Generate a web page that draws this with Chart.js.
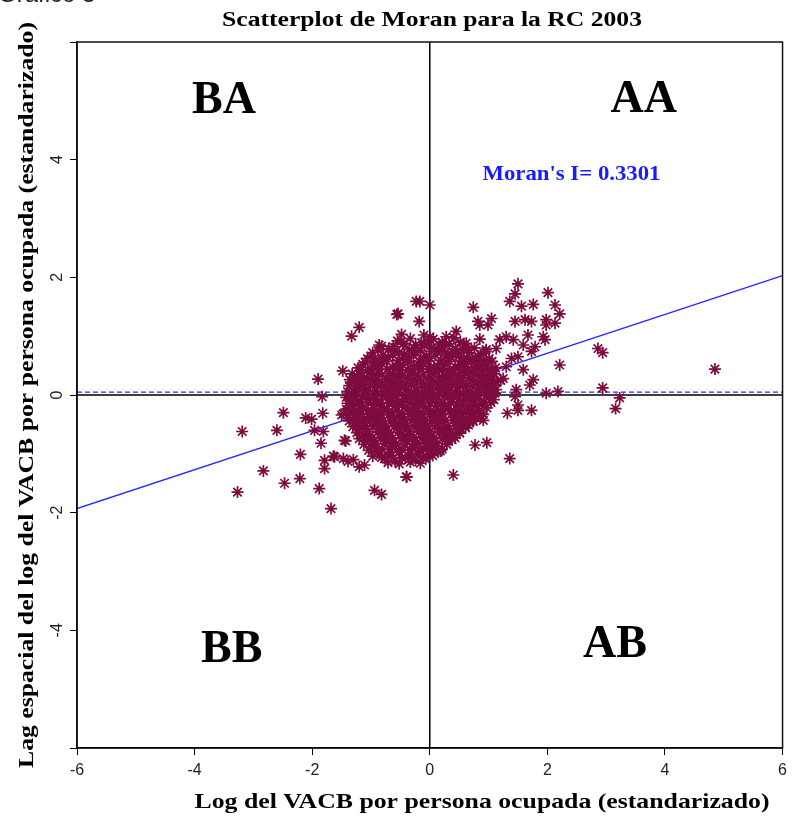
<!DOCTYPE html>
<html>
<head>
<meta charset="utf-8">
<script src="https://cdn.jsdelivr.net/npm/chart.js@4.4.0/dist/chart.umd.min.js"></script>
<style>
  html, body { margin: 0; padding: 0; background: #fff; }
  #wrap { width: 793px; height: 816px; position: relative; overflow: hidden; }
</style>
</head>
<body>
<div id="wrap"><canvas id="moran" width="793" height="816"></canvas></div>
<script>
// axis setup
const axisMin = -6;
const axisMax = 6;
const tickStep = 2;

// Moran's I, mean of the spatial lag and the fitted line ends
const moranI = 0.3301;
const meanLag = 0.05;
const regLine = [[-6, -1.93], [6, 2.03]];

// quadrant labels: [text, x, y] in data units
const quadLabels = [['BA', -3.50, 4.99], ['AA', 3.64, 5.02], ['BB', -3.37, -4.34], ['AB', 3.15, -4.25]];

// points outside the dense centre
const outerPoints = [
  [-3.19, -0.62], [-3.27, -1.65], [-2.83, -1.29], [-2.47, -1.50], [-2.21, -1.42], [-1.88, -1.59],
  [-1.68, -1.93], [-2.49, -0.30], [-2.60, -0.60], [-2.20, -1.01], [-2.11, -0.39], [-2.01, -0.41],
  [-1.82, -0.31], [-1.90, 0.27], [-1.83, -0.03], [-1.96, -0.60], [-1.81, -0.62], [-1.85, -0.82],
  [-1.48, 0.41], [-1.33, 1.00], [-1.20, 1.15], [-1.47, -0.32], [-1.43, -0.78], [-1.79, -1.11],
  [-1.79, -1.25], [-1.62, -1.05], [-1.47, -1.08], [-1.39, -1.13], [-1.11, -1.19], [-0.94, -1.62],
  [-0.82, -1.69], [-0.39, -1.39], [-0.56, 1.37], [-0.48, 1.03], [-0.23, 1.59], [-0.86, 0.85],
  [-0.62, 0.82], [-0.94, 0.57], [-1.22, 0.26], [-1.64, -1.04], [-1.45, -0.77], [-1.50, -0.34],
  [-1.30, -1.10], [-1.20, -1.22], [-0.18, 1.25], [-0.10, 1.02], [0.00, 0.99], [-0.54, 1.38],
  [1.50, 1.89], [2.01, 1.74], [1.36, 1.59], [1.45, 1.72], [1.76, 1.54], [1.56, 1.51],
  [2.13, 1.53], [2.21, 1.38], [1.98, 1.28], [1.98, 1.19], [1.45, 1.25], [1.62, 1.28],
  [1.73, 1.25], [1.93, 0.99], [1.96, 0.94], [1.67, 1.02], [1.79, 0.82], [1.73, 0.74],
  [2.21, 0.51], [1.59, 0.85], [1.42, 0.94], [1.19, 0.94], [1.30, 0.99], [1.05, 1.30],
  [0.99, 1.19], [0.82, 1.25], [0.85, 1.19], [0.74, 1.49], [-0.17, 1.59], [0.00, 1.53],
  [0.85, 0.95], [1.13, 0.79], [0.96, 0.77], [1.39, 0.62], [1.50, 0.65], [1.30, 0.48],
  [1.59, 0.43], [1.76, 0.26], [1.70, 0.17], [1.47, 0.09], [1.45, -0.03], [1.98, 0.03],
  [2.18, 0.06], [1.50, -0.17], [1.50, -0.26], [1.32, -0.31], [1.73, -0.26], [1.36, -1.08],
  [0.97, -0.81], [0.77, -0.85], [0.40, -1.36], [-0.40, -1.39], [0.91, -0.43], [0.74, -0.45],
  [0.57, -0.48], [0.68, -0.28], [0.51, -0.65], [0.31, -0.77], [0.00, -0.94], [-0.17, -0.94],
  [0.99, 0.11], [1.13, 0.09], [1.08, 0.37], [1.25, 0.28], [0.79, 0.60], [0.65, 0.77],
  [0.45, 1.08], [0.28, 0.99], [2.13, 1.22], [2.86, 0.79], [2.94, 0.72], [4.85, 0.44],
  [2.94, 0.12], [3.23, -0.05], [3.16, -0.23]
];

// dense centre of the cloud (estimated, row by row)
const corePoints = [
  [-0.55, 0.92], [-0.33, 0.96], [-0.14, 0.89], [0.06, 0.95], [0.21, 0.90], [0.41, 0.97], [0.62, 0.88],
  [-0.82, 0.83], [-0.64, 0.78], [-0.46, 0.86], [-0.27, 0.80], [-0.09, 0.84], [0.09, 0.77], [0.26, 0.83], [0.44, 0.79], [0.58, 0.85],
  [-0.97, 0.72], [-0.79, 0.68], [-0.61, 0.74], [-0.43, 0.69], [-0.24, 0.73], [-0.06, 0.67], [0.13, 0.74], [0.31, 0.70], [0.49, 0.66], [0.67, 0.72], [0.86, 0.69],
  [-1.06, 0.62], [-0.87, 0.58], [-0.71, 0.64], [-0.53, 0.59], [-0.36, 0.63], [-0.17, 0.57], [0.01, 0.62], [0.19, 0.59], [0.36, 0.64], [0.54, 0.57], [0.73, 0.61], [0.92, 0.58],
  [-1.14, 0.52], [-0.97, 0.48], [-0.81, 0.53], [-0.63, 0.47], [-0.46, 0.51], [-0.27, 0.49], [-0.11, 0.54], [0.07, 0.47], [0.26, 0.52], [0.43, 0.48], [0.61, 0.53], [0.79, 0.49], [0.97, 0.51],
  [-1.19, 0.41], [-1.03, 0.38], [-0.86, 0.43], [-0.67, 0.37], [-0.51, 0.42], [-0.33, 0.39], [-0.14, 0.44], [0.03, 0.38], [0.21, 0.42], [0.37, 0.37], [0.56, 0.43], [0.71, 0.39], [0.89, 0.41], [1.04, 0.36],
  [-1.24, 0.31], [-1.07, 0.28], [-0.91, 0.33], [-0.73, 0.27], [-0.54, 0.32], [-0.37, 0.29], [-0.21, 0.34], [-0.02, 0.27], [0.16, 0.31], [0.33, 0.28], [0.49, 0.33], [0.67, 0.29], [0.84, 0.32], [1.01, 0.27],
  [-1.29, 0.22], [-1.13, 0.18], [-0.94, 0.23], [-0.77, 0.17], [-0.61, 0.21], [-0.43, 0.19], [-0.24, 0.24], [-0.07, 0.17], [0.11, 0.22], [0.27, 0.18], [0.46, 0.23], [0.63, 0.17], [0.81, 0.21], [0.97, 0.19], [1.14, 0.22],
  [-1.27, 0.11], [-1.09, 0.08], [-0.93, 0.13], [-0.74, 0.07], [-0.57, 0.12], [-0.41, 0.09], [-0.23, 0.14], [-0.04, 0.07], [0.13, 0.12], [0.31, 0.08], [0.47, 0.13], [0.64, 0.07], [0.83, 0.11], [1.01, 0.09],
  [-1.33, 0.02], [-1.16, -0.03], [-0.97, 0.03], [-0.81, -0.02], [-0.63, 0.04], [-0.44, -0.01], [-0.27, 0.03], [-0.11, -0.04], [0.07, 0.01], [0.24, -0.02], [0.43, 0.04], [0.59, -0.03], [0.77, 0.02], [0.96, -0.01], [1.11, 0.03],
  [-1.34, -0.08], [-1.17, -0.12], [-1.01, -0.07], [-0.83, -0.13], [-0.66, -0.09], [-0.47, -0.11], [-0.31, -0.06], [-0.13, -0.12], [0.04, -0.08], [0.23, -0.13], [0.39, -0.07], [0.57, -0.11], [0.76, -0.09], [0.93, -0.12], [1.09, -0.08],
  [-1.31, -0.18], [-1.13, -0.22], [-0.96, -0.17], [-0.77, -0.23], [-0.59, -0.19], [-0.43, -0.21], [-0.26, -0.16], [-0.07, -0.22], [0.11, -0.18], [0.27, -0.23], [0.46, -0.17], [0.63, -0.21], [0.79, -0.19], [0.97, -0.22],
  [-1.36, -0.28], [-1.19, -0.32], [-0.99, -0.27], [-0.83, -0.33], [-0.64, -0.29], [-0.47, -0.31], [-0.29, -0.26], [-0.13, -0.32], [0.06, -0.28], [0.21, -0.33], [0.41, -0.27], [0.57, -0.31], [0.74, -0.29], [0.91, -0.33],
  [-1.29, -0.38], [-1.11, -0.42], [-0.94, -0.37], [-0.79, -0.43], [-0.61, -0.39], [-0.43, -0.41], [-0.24, -0.36], [-0.09, -0.42], [0.09, -0.38], [0.27, -0.43], [0.44, -0.37], [0.61, -0.41], [0.79, -0.39],
  [-1.27, -0.48], [-1.09, -0.52], [-0.91, -0.47], [-0.74, -0.53], [-0.57, -0.49], [-0.39, -0.51], [-0.21, -0.46], [-0.04, -0.52], [0.13, -0.48], [0.31, -0.53], [0.47, -0.47], [0.66, -0.51],
  [-1.21, -0.58], [-1.04, -0.62], [-0.87, -0.57], [-0.69, -0.63], [-0.51, -0.59], [-0.34, -0.61], [-0.17, -0.56], [0.01, -0.62], [0.17, -0.58], [0.36, -0.63], [0.53, -0.57],
  [-1.14, -0.68], [-0.97, -0.72], [-0.79, -0.67], [-0.63, -0.73], [-0.44, -0.69], [-0.27, -0.71], [-0.11, -0.66], [0.07, -0.72], [0.24, -0.68], [0.43, -0.73],
  [-1.09, -0.78], [-0.91, -0.82], [-0.74, -0.77], [-0.57, -0.83], [-0.39, -0.79], [-0.21, -0.81], [-0.04, -0.76], [0.13, -0.82], [0.29, -0.78],
  [-0.99, -0.88], [-0.81, -0.92], [-0.64, -0.87], [-0.47, -0.93], [-0.29, -0.89], [-0.11, -0.91], [0.06, -0.86], [0.21, -0.92],
  [-0.89, -0.98], [-0.71, -1.02], [-0.53, -0.97], [-0.37, -1.03], [-0.19, -0.99], [-0.02, -1.01], [0.14, -0.97],
  [-0.77, -1.08], [-0.59, -1.12], [-0.41, -1.07], [-0.24, -1.11], [-0.07, -1.09]
];

// more points packed between the rows above
const coreFill = [
  [-0.44, 0.88], [-0.24, 0.85], [-0.03, 0.90], [0.16, 0.86], [0.33, 0.87], [0.52, 0.90],
  [-0.88, 0.76], [-0.70, 0.79], [-0.52, 0.73], [-0.35, 0.77], [-0.16, 0.75], [0.03, 0.80], [0.21, 0.76], [0.39, 0.73], [0.57, 0.77], [0.76, 0.80], [0.95, 0.74],
  [-1.00, 0.66], [-0.82, 0.63], [-0.63, 0.68], [-0.45, 0.64], [-0.28, 0.67], [-0.10, 0.63], [0.09, 0.68], [0.27, 0.65], [0.45, 0.69], [0.63, 0.63], [0.82, 0.66], [1.01, 0.62],
  [-1.10, 0.56], [-0.91, 0.53], [-0.73, 0.57], [-0.55, 0.54], [-0.37, 0.56], [-0.19, 0.52], [-0.02, 0.57], [0.17, 0.54], [0.34, 0.57], [0.52, 0.52], [0.70, 0.56], [0.88, 0.54], [1.06, 0.57],
  [-1.22, 0.46], [-1.06, 0.43], [-0.89, 0.47], [-0.72, 0.44], [-0.55, 0.46], [-0.38, 0.43], [-0.20, 0.47], [-0.03, 0.44], [0.14, 0.46], [0.31, 0.42], [0.48, 0.46], [0.64, 0.44], [0.81, 0.47], [0.98, 0.43], [1.12, 0.46],
  [-1.32, 0.36], [-1.15, 0.33], [-0.98, 0.37], [-0.81, 0.34], [-0.63, 0.36], [-0.46, 0.33], [-0.29, 0.37], [-0.11, 0.34], [0.07, 0.36], [0.25, 0.33], [0.41, 0.37], [0.58, 0.34], [0.76, 0.36], [0.93, 0.33], [1.10, 0.36],
  [-1.36, 0.26], [-1.20, 0.24], [-1.02, 0.27], [-0.86, 0.23], [-0.69, 0.26], [-0.52, 0.24], [-0.33, 0.27], [-0.15, 0.23], [0.03, 0.26], [0.20, 0.24], [0.37, 0.27], [0.55, 0.23], [0.72, 0.26], [0.89, 0.24], [1.06, 0.27], [1.21, 0.25],
  [-1.37, 0.16], [-1.19, 0.13], [-1.01, 0.17], [-0.84, 0.14], [-0.66, 0.16], [-0.49, 0.13], [-0.31, 0.17], [-0.14, 0.14], [0.04, 0.16], [0.22, 0.13], [0.39, 0.17], [0.56, 0.14], [0.73, 0.16], [0.91, 0.14], [1.08, 0.16],
  [-1.40, 0.06], [-1.24, 0.04], [-1.07, 0.07], [-0.89, 0.03], [-0.71, 0.06], [-0.54, 0.04], [-0.36, 0.07], [-0.19, 0.03], [-0.02, 0.06], [0.16, 0.04], [0.33, 0.07], [0.51, 0.03], [0.68, 0.06], [0.86, 0.04], [1.03, 0.07],
  [-1.42, -0.04], [-1.26, -0.06], [-1.09, -0.03], [-0.91, -0.07], [-0.74, -0.04], [-0.56, -0.06], [-0.39, -0.03], [-0.21, -0.07], [-0.04, -0.04], [0.14, -0.06], [0.31, -0.03], [0.49, -0.07], [0.67, -0.04], [0.84, -0.06], [1.01, -0.03],
  [-1.40, -0.14], [-1.22, -0.16], [-1.05, -0.13], [-0.87, -0.17], [-0.69, -0.14], [-0.52, -0.16], [-0.35, -0.13], [-0.17, -0.17], [0.01, -0.14], [0.19, -0.16], [0.36, -0.13], [0.54, -0.17], [0.71, -0.14], [0.88, -0.16], [1.04, -0.13],
  [-1.42, -0.24], [-1.26, -0.26], [-1.09, -0.23], [-0.91, -0.27], [-0.73, -0.24], [-0.56, -0.26], [-0.38, -0.23], [-0.21, -0.27], [-0.03, -0.24], [0.14, -0.26], [0.31, -0.23], [0.49, -0.27], [0.66, -0.24], [0.84, -0.26],
  [-1.38, -0.34], [-1.21, -0.36], [-1.04, -0.33], [-0.87, -0.37], [-0.70, -0.34], [-0.52, -0.36], [-0.34, -0.33], [-0.17, -0.37], [0.01, -0.34], [0.18, -0.36], [0.36, -0.33], [0.53, -0.37], [0.70, -0.34], [0.86, -0.36],
  [-1.37, -0.44], [-1.19, -0.46], [-1.02, -0.43], [-0.84, -0.47], [-0.67, -0.44], [-0.49, -0.46], [-0.31, -0.43], [-0.14, -0.47], [0.04, -0.44], [0.21, -0.46], [0.39, -0.43], [0.56, -0.47], [0.73, -0.44],
  [-1.31, -0.54], [-1.14, -0.56], [-0.97, -0.53], [-0.79, -0.57], [-0.61, -0.54], [-0.44, -0.56], [-0.27, -0.53], [-0.09, -0.57], [0.08, -0.54], [0.26, -0.56], [0.43, -0.53], [0.61, -0.56],
  [-1.24, -0.64], [-1.07, -0.66], [-0.89, -0.63], [-0.72, -0.67], [-0.54, -0.64], [-0.37, -0.66], [-0.19, -0.63], [-0.02, -0.67], [0.16, -0.64], [0.33, -0.66], [0.50, -0.63],
  [-1.20, -0.74], [-1.02, -0.76], [-0.84, -0.73], [-0.67, -0.77], [-0.49, -0.74], [-0.31, -0.76], [-0.14, -0.73], [0.03, -0.77], [0.21, -0.74], [0.38, -0.76],
  [-1.12, -0.84], [-0.95, -0.86], [-0.77, -0.83], [-0.59, -0.87], [-0.42, -0.84], [-0.24, -0.86], [-0.07, -0.83], [0.11, -0.87], [0.29, -0.84],
  [-1.04, -0.94], [-0.87, -0.96], [-0.69, -0.93], [-0.52, -0.97], [-0.34, -0.94], [-0.16, -0.96], [0.02, -0.93], [0.18, -0.95],
  [-0.97, -1.04], [-0.82, -1.06], [-0.65, -1.03], [-0.47, -1.07], [-0.30, -1.04], [-0.12, -1.06], [0.05, -1.03],
  [-0.71, -1.15], [-0.52, -1.17], [-0.33, -1.14], [-0.16, -1.16]
];

const titleText = 'Scatterplot de Moran para la RC 2003';
const xTitle = 'Log del VACB por persona ocupada (estandarizado)';
const yTitle = 'Lag espacial del log del VACB por persona ocupada (estandarizado)';

const toXY = arr => arr.map(p => ({ x: p[0], y: p[1] }));

// draws text squeezed/stretched horizontally to a given width
function fitText(ctx, text, cx, cy, font, width, rot) {
  ctx.save();
  ctx.font = font;
  const w = ctx.measureText(text).width;
  ctx.translate(cx, cy);
  if (rot) ctx.rotate(rot);
  ctx.scale(width / w, 1);
  ctx.textAlign = 'center';
  ctx.textBaseline = 'alphabetic';
  ctx.fillText(text, 0, 0);
  ctx.restore();
}

const textPlugin = {
  id: 'moranText',
  afterDraw(chart) {
    const { ctx, chartArea: a, scales: { x, y } } = chart;
    ctx.save();
    // frame
    ctx.strokeStyle = '#111';
    ctx.lineWidth = 1.5;
    ctx.strokeRect(a.left, a.top, a.right - a.left, a.bottom - a.top);
    ctx.fillStyle = '#000';
    // quadrant labels
    ctx.font = 'bold 46px "Liberation Serif", "Times New Roman", serif';
    ctx.textAlign = 'center';
    ctx.textBaseline = 'middle';
    quadLabels.forEach(q => ctx.fillText(q[0], x.getPixelForValue(q[1]), y.getPixelForValue(q[2])));
    // Moran's I
    ctx.fillStyle = '#1a1aff';
    fitText(ctx, "Moran's I= " + moranI.toFixed(4), x.getPixelForValue(2.41), y.getPixelForValue(3.65),
      'bold 22px "Liberation Serif", serif', 178, 0);
    ctx.fillStyle = '#000';
    // titles
    fitText(ctx, titleText, 432, 26, 'bold 20px "Liberation Serif", serif', 420, 0);
    fitText(ctx, xTitle, 482, 808, 'bold 21px "Liberation Serif", serif', 575, 0);
    fitText(ctx, yTitle, 33, 395, 'bold 21px "Liberation Serif", serif', 746, -Math.PI / 2);
    // caption cut off at the top of the picture
    ctx.fillStyle = '#222';
    ctx.font = '24px "Liberation Sans", Arial, sans-serif';
    ctx.textAlign = 'left';
    ctx.textBaseline = 'alphabetic';
    ctx.fillText('Gráfico 3', -2, 2);
    ctx.restore();
  }
};

const tickFont = { family: '"Liberation Sans", Arial, sans-serif', size: 16 };

new Chart(document.getElementById('moran'), {
  type: 'scatter',
  data: {
    datasets: [
      {
        data: toXY(outerPoints.concat(corePoints, coreFill)),
        pointStyle: 'star',
        radius: 6,
        borderColor: '#7d0b3e',
        borderWidth: 1.7,
        backgroundColor: '#7d0b3e',
        order: 0
      },
      {
        type: 'line',
        data: toXY(regLine),
        borderColor: '#2a2aff',
        borderWidth: 1.3,
        pointRadius: 0,
        order: 1
      },
      {
        type: 'line',
        data: [{ x: axisMin, y: meanLag }, { x: axisMax, y: meanLag }],
        borderColor: '#2a2aff',
        borderWidth: 1.3,
        borderDash: [5, 3],
        pointRadius: 0,
        order: 2
      },
      {
        type: 'line',
        data: [{ x: axisMin, y: 0 }, { x: axisMax, y: 0 }],
        borderColor: '#000',
        borderWidth: 1.5,
        pointRadius: 0,
        order: 3
      },
      {
        type: 'line',
        data: [{ x: 0, y: axisMin }, { x: 0, y: axisMax }],
        borderColor: '#000',
        borderWidth: 1.5,
        pointRadius: 0,
        order: 3
      }
    ]
  },
  options: {
    responsive: false,
    animation: false,
    events: [],
    layout: { padding: { top: 42, right: 10, left: 0, bottom: 0 } },
    plugins: { legend: { display: false }, tooltip: { enabled: false }, title: { display: false } },
    scales: {
      x: {
        type: 'linear',
        min: axisMin,
        max: axisMax,
        afterFit: s => { s.height = 68; },
        ticks: { stepSize: tickStep, autoSkip: false, font: tickFont, color: '#222', padding: 6, maxRotation: 0 },
        grid: { drawOnChartArea: false, drawTicks: true, tickLength: 7, color: '#000' },
        border: { display: true, color: '#000', width: 1.5 }
      },
      y: {
        type: 'linear',
        min: axisMin,
        max: axisMax,
        afterFit: s => { s.width = 77; },
        ticks: {
          stepSize: tickStep, autoSkip: false, font: tickFont, color: '#222', padding: 5,
          minRotation: 90, maxRotation: 90, crossAlign: 'center',
          callback: v => (v === axisMin || v === axisMax) ? '' : v
        },
        grid: { drawOnChartArea: false, drawTicks: true, tickLength: 7, color: '#000' },
        border: { display: true, color: '#000', width: 1.5 }
      }
    }
  },
  plugins: [textPlugin]
});
</script>
</body>
</html>
